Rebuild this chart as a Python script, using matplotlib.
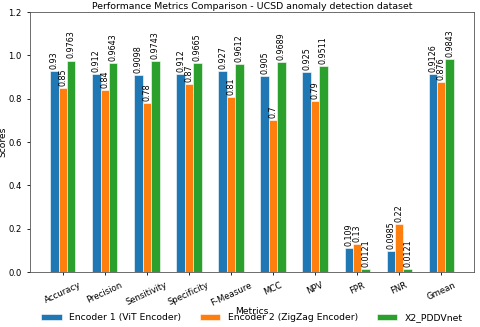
import matplotlib
matplotlib.use('Agg')
import matplotlib.pyplot as plt
import numpy as np

# Metric names and scores for each model
metrics = ['Accuracy', 'Precision', 'Sensitivity', 'Specificity', 'F-Measure',
           'MCC', 'NPV', 'FPR', 'FNR', 'Gmean']
encoder1 = [0.93, 0.912, 0.9098, 0.912, 0.927, 0.905, 0.925, 0.109, 0.0985, 0.9126]
encoder2 = [0.85, 0.84, 0.78, 0.87, 0.81, 0.7, 0.79, 0.13, 0.22, 0.876]
pddvnet = [0.9763, 0.9643, 0.9743, 0.9665, 0.9612, 0.9689, 0.9511, 0.0121, 0.0121, 0.9843]
series_names = ['Encoder 1 (ViT Encoder)', 'Encoder 2 (ZigZag Encoder)', 'X2_PDDVnet']

fig = plt.figure(figsize=(4.8, 3.27), dpi=100)
ax = fig.add_axes([0.0625, 0.168, 0.925, 0.795])

x = np.arange(len(metrics))
width = 0.2
colors = ['#1f77b4', '#ff7f0e', '#2ca02c']

for i, (vals, name) in enumerate(zip([encoder1, encoder2, pddvnet], series_names)):
    bars = ax.bar(x + (i - 1) * width, vals, width, label=name, color=colors[i],
                  edgecolor='white', linewidth=0.4)
    ax.bar_label(bars, labels=[f'{v:g}' for v in vals], rotation=90,
                 fontsize=5.8, padding=1.5)

ax.set_ylim(0, 1.2)
ax.set_xticks(x)
ax.set_xticklabels(metrics, rotation=25, fontsize=6.1)
ax.tick_params(axis='y', labelsize=6.1)
ax.tick_params(length=2.5, width=0.6)
for s in ax.spines.values():
    s.set_linewidth(0.6)
    s.set_color('#555555')
ax.set_ylabel('Scores', fontsize=6.6)
ax.yaxis.set_label_coords(-0.05, 0.5)
ax.set_xlabel('Metrics', fontsize=6.6, labelpad=0)
ax.set_title('Performance Metrics Comparison - UCSD anomaly detection dataset',
             fontsize=6.75, pad=2)

# legend centred under the axes, overlapping the x label like the original
ax.legend(loc='center', bbox_to_anchor=(0.5, -0.175), ncol=3, frameon=False,
          fontsize=6.7, handlelength=2.2, handleheight=0.6, columnspacing=2.0,
          borderaxespad=0)

plt.savefig('out.png', dpi=100)
